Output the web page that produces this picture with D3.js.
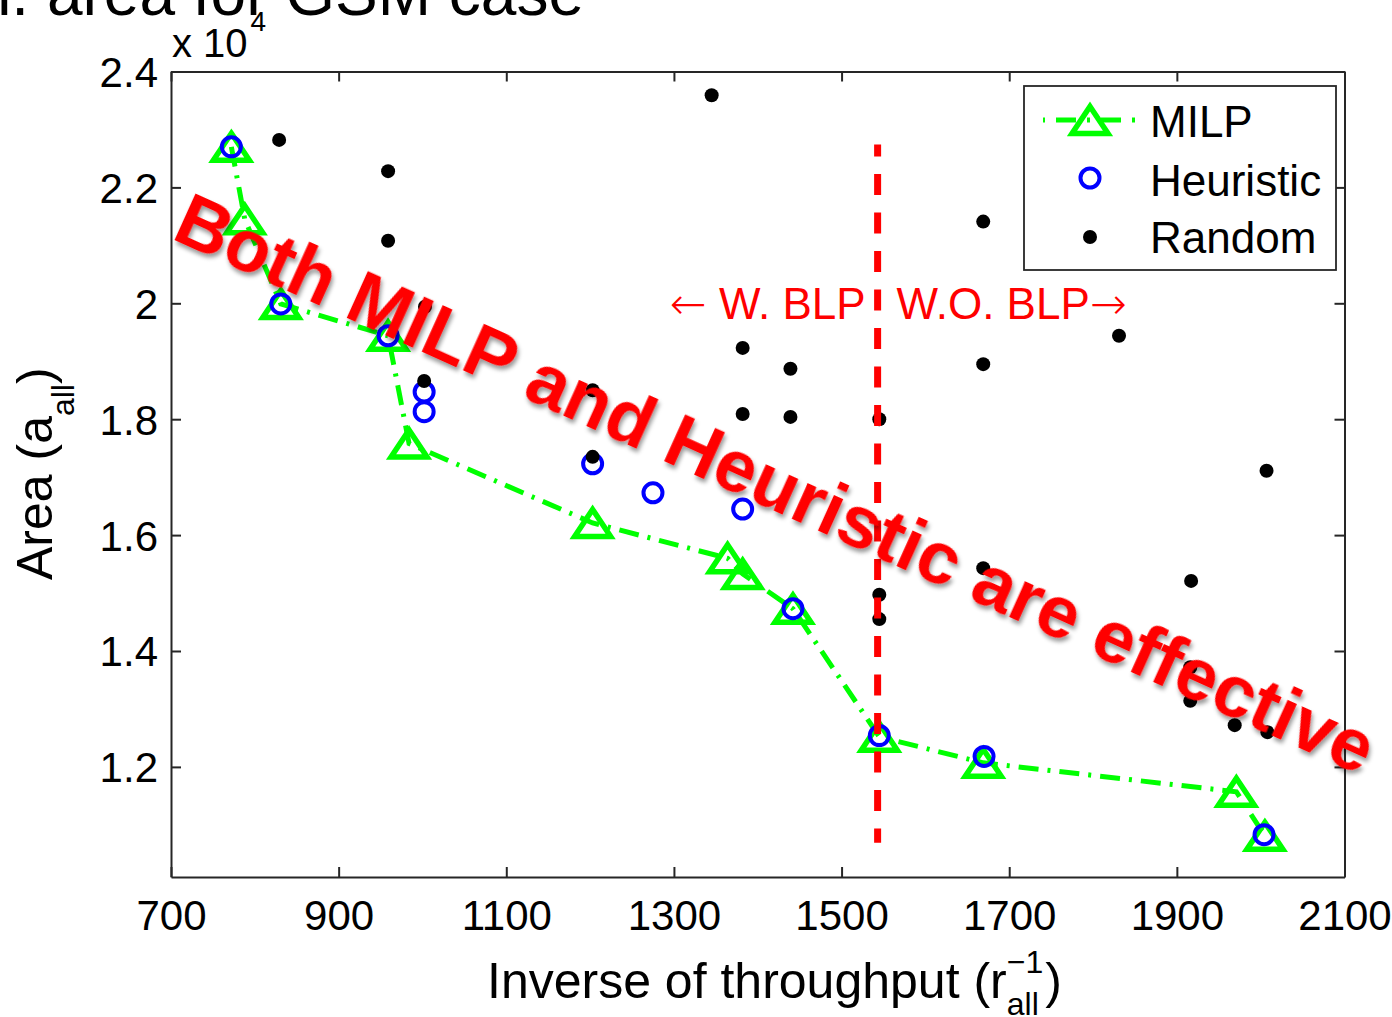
<!DOCTYPE html>
<html>
<head>
<meta charset="utf-8">
<script src="https://cdn.jsdelivr.net/npm/d3@7/dist/d3.min.js"></script>
<style>
  html, body { margin: 0; padding: 0; background: #fff; }
  svg { display: block; font-family: "Liberation Sans", Arial, sans-serif; }
</style>
</head>
<body>
<svg id="chart" width="1392" height="1017"></svg>
<script>
// ---------------- data ----------------
const milpX = [772, 788, 831, 959, 984, 1203, 1364, 1382, 1442, 1545, 1669, 1971, 2005];
const milpY = [22700, 21450, 19990, 19440, 17580, 16210, 15600, 15330, 14730, 12520, 12070, 11570, 10810];

const heurX = [772, 831, 959, 1002, 1002, 1203, 1275, 1382, 1442, 1545, 1670, 2004];
const heurY = [22700, 19990, 19440, 18470, 18130, 17230, 16730, 16450, 14730, 12540, 12180, 10830];

const randX = [829, 959, 959, 1003, 1002, 1203, 1203, 1345, 1382, 1439, 1382, 1439, 1545,
               1669, 1669, 1831, 2007, 1917, 1669, 1545, 1545, 1916, 1916, 1969, 2008];
const randY = [22820, 22280, 21080, 19940, 18660, 18500, 17350, 23590, 19230, 18870, 18090, 18040, 18000,
               21410, 18950, 19440, 17110, 15210, 15430, 14970, 14550, 13720, 13140, 12720, 12600];

const xTicks = [700, 900, 1100, 1300, 1500, 1700, 1900, 2100];
const yTicks = [12000, 14000, 16000, 18000, 20000, 22000, 24000];
const xDomain = [700, 2100];
const yDomain = [10100, 24000];

const blpX = 1543;
const blpY = [10690, 22740];

const legendLabels = ["MILP", "Heuristic", "Random"];
const overlayText = "Both MILP and Heuristic are effective";

// ---------------- layout ----------------
const svg = d3.select("#chart");
const L = 171, R = 1344.5, T = 71.5, B = 877;
const x = d3.scaleLinear().domain(xDomain).range([L, R]);
const y = d3.scaleLinear().domain(yDomain).range([B, T]);
const axisColor = "#262626";

// title fragment (cut at top)
svg.append("text").attr("x", 584).attr("y", 15).attr("text-anchor", "end")
  .attr("font-size", 64).attr("fill", "#000").text("n. area for GSM case");

// plot background
svg.append("rect").attr("x", L).attr("y", T).attr("width", R - L).attr("height", B - T)
  .attr("fill", "#fff");

// axes
function styleAxis(g) {
  g.selectAll("path.domain").attr("stroke", axisColor).attr("stroke-width", 2);
  g.selectAll(".tick line").attr("stroke", axisColor).attr("stroke-width", 2);
}
const gB = svg.append("g").attr("transform", `translate(0,${B})`)
  .call(d3.axisBottom(x).tickValues(xTicks).tickSizeInner(-10).tickSizeOuter(0).tickPadding(0).tickFormat(d3.format("d")));
gB.selectAll("text").attr("font-size", 42).attr("fill", "#000").attr("y", 53).attr("dy", 0)
  .attr("font-family", "Liberation Sans, Arial, sans-serif");
styleAxis(gB);

const gT = svg.append("g").attr("transform", `translate(0,${T})`)
  .call(d3.axisTop(x).tickValues(xTicks).tickSizeInner(-10).tickSizeOuter(0).tickFormat(""));
styleAxis(gT);

const gL = svg.append("g").attr("transform", `translate(${L},0)`)
  .call(d3.axisLeft(y).tickValues(yTicks).tickSizeInner(-10).tickSizeOuter(0).tickPadding(13)
    .tickFormat(d => d3.format("")(d / 1e4)));
gL.selectAll("text").attr("font-size", 42).attr("fill", "#000").attr("dy", 15).attr("x", -13)
  .attr("font-family", "Liberation Sans, Arial, sans-serif");
styleAxis(gL);

const gR = svg.append("g").attr("transform", `translate(${R},0)`)
  .call(d3.axisRight(y).tickValues(yTicks).tickSizeInner(-10).tickSizeOuter(0).tickFormat(""));
styleAxis(gR);

// exponent label
const expT = svg.append("text").attr("x", 172).attr("y", 57).attr("font-size", 40).attr("fill", "#000");
expT.append("tspan").text("x 10");
expT.append("tspan").attr("font-size", 28).attr("dy", -26).attr("dx", 3).text("4");

// axis labels
const xl = svg.append("text").attr("x", 487).attr("y", 998).attr("font-size", 50).attr("fill", "#000");
xl.append("tspan").text("Inverse of throughput (r");
xl.append("tspan").attr("font-size", 32).attr("dy", 17).text("all");
xl.append("tspan").attr("font-size", 32).attr("dx", -32).attr("dy", -42).text("\u22121");
xl.append("tspan").attr("dy", 25).attr("dx", 2).text(")");

const yl = svg.append("text").attr("transform", "translate(52,580) rotate(-90)")
  .attr("font-size", 50).attr("fill", "#000");
yl.append("tspan").text("Area (a");
yl.append("tspan").attr("font-size", 32).attr("dy", 22).text("all");
yl.append("tspan").attr("dy", -22).text(")");

// ---------------- series ----------------
const milp = milpX.map((v, i) => [v, milpY[i]]);
const heur = heurX.map((v, i) => [v, heurY[i]]);
const rand = randX.map((v, i) => [v, randY[i]]);

const green = "#00ff00", blue = "#0000ff";
const dashDot = "20 9 3 9";
function tri(w, h) { return `M0,${-h / 2}L${w / 2},${h / 2}L${-w / 2},${h / 2}Z`; }

svg.append("path").datum(milp)
  .attr("d", d3.line().x(d => x(d[0])).y(d => y(d[1])))
  .attr("fill", "none").attr("stroke", green).attr("stroke-width", 5)
  .attr("stroke-dasharray", dashDot);

svg.append("g").selectAll("path").data(milp).join("path")
  .attr("transform", d => `translate(${x(d[0])},${y(d[1])})`)
  .attr("d", tri(36, 27)).attr("fill", "none").attr("stroke", green)
  .attr("stroke-width", 5.5).attr("stroke-linejoin", "miter");

svg.append("g").selectAll("circle").data(heur).join("circle")
  .attr("cx", d => x(d[0])).attr("cy", d => y(d[1])).attr("r", 9.5)
  .attr("fill", "none").attr("stroke", blue).attr("stroke-width", 4);

svg.append("g").selectAll("circle").data(rand).join("circle")
  .attr("cx", d => x(d[0])).attr("cy", d => y(d[1])).attr("r", 7)
  .attr("fill", "#000");

// red BLP divider
svg.append("line").attr("x1", x(blpX)).attr("x2", x(blpX))
  .attr("y1", y(blpY[1])).attr("y2", y(blpY[0]))
  .attr("stroke", "#ff0000").attr("stroke-width", 7)
  .attr("stroke-dasharray", "21 17.5").attr("stroke-dashoffset", 9);

const wl = svg.append("text").attr("x", x(blpX) - 12).attr("y", 319).attr("text-anchor", "end")
  .attr("font-size", 44).attr("fill", "#ff0000");
wl.append("tspan").attr("font-family", "DejaVu Sans").attr("font-weight", 200).text("\u2190");
wl.append("tspan").text(" W. BLP");
const wr = svg.append("text").attr("x", x(blpX) + 19).attr("y", 319)
  .attr("font-size", 44).attr("fill", "#ff0000");
wr.append("tspan").text("W.O. BLP");
wr.append("tspan").attr("font-family", "DejaVu Sans").attr("font-weight", 200).text("\u2192");

// ---------------- legend ----------------
const lg = svg.append("g");
lg.append("rect").attr("x", 1024).attr("y", 86).attr("width", 312).attr("height", 184)
  .attr("fill", "#fff").attr("stroke", axisColor).attr("stroke-width", 1.8);
const rowY = [120, 178, 237];
const baseY = [137, 196, 253];
lg.append("line").attr("x1", 1043).attr("x2", 1137).attr("y1", rowY[0]).attr("y2", rowY[0])
  .attr("stroke", green).attr("stroke-width", 5).attr("stroke-dasharray", "20 11 3 11")
  .attr("stroke-dashoffset", 32);
lg.append("path").attr("transform", `translate(1090,${rowY[0]})`).attr("d", tri(36, 27))
  .attr("fill", "none").attr("stroke", green).attr("stroke-width", 5.5);
lg.append("circle").attr("cx", 1090).attr("cy", rowY[1]).attr("r", 9.5)
  .attr("fill", "none").attr("stroke", blue).attr("stroke-width", 4);
lg.append("circle").attr("cx", 1090).attr("cy", rowY[2]).attr("r", 7).attr("fill", "#000");
lg.selectAll("text.lab").data(legendLabels).join("text").attr("class", "lab")
  .attr("x", 1150).attr("y", (d, i) => baseY[i]).attr("font-size", 44).attr("fill", "#000")
  .text(d => d);

// ---------------- overlay annotation ----------------
const defs = svg.append("defs");
const f = defs.append("filter").attr("id", "shadow").attr("x", "-10%").attr("y", "-30%")
  .attr("width", "120%").attr("height", "160%");
f.append("feDropShadow").attr("dx", 3).attr("dy", 3).attr("stdDeviation", 2)
  .attr("flood-color", "#000").attr("flood-opacity", 0.4);

svg.append("text").attr("transform", "translate(170,238) rotate(24.3)")
  .attr("font-size", 74).attr("font-weight", "bold").attr("fill", "#ff0000")
  .attr("filter", "url(#shadow)").text(overlayText);
</script>
</body>
</html>
